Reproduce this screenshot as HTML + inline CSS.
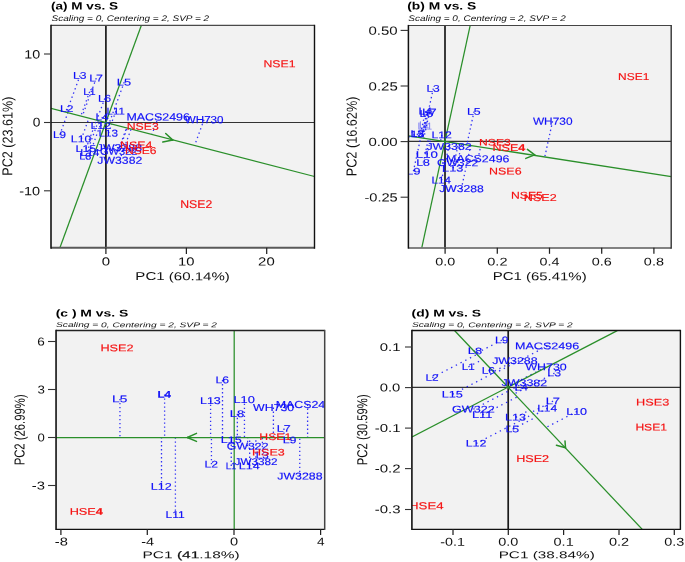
<!DOCTYPE html>
<html><head><meta charset="utf-8"><title>GGE biplots</title>
<style>
html,body{margin:0;padding:0;background:#fff;}
body{width:685px;height:562px;overflow:hidden;}
svg{display:block;will-change:transform;text-rendering:geometricPrecision;font-family:"Liberation Sans", sans-serif;}
</style></head>
<body>
<svg width="685" height="562" viewBox="0 0 685 562">
<rect x="0" y="0" width="685" height="562" fill="#fff"/>
<clipPath id="ca"><rect x="51" y="25.3" width="263.5" height="222.39999999999998"/></clipPath>
<rect x="51" y="25.3" width="263.5" height="222.39999999999998" fill="#f2f2f2"/>
<g clip-path="url(#ca)">
<line x1="105.90" y1="25.30" x2="105.90" y2="247.70" stroke="#1a1a1a" stroke-width="1.7"/>
<line x1="51.00" y1="122.50" x2="314.50" y2="122.50" stroke="#333" stroke-width="1.1"/>
<line x1="80.05" y1="75.45" x2="66.54" y2="112.31" stroke="#1010f8" stroke-width="1.3" stroke-dasharray="1.4 3.10" stroke-linecap="butt" opacity="0.85"/>
<line x1="96.25" y1="78.15" x2="82.24" y2="116.37" stroke="#1010f8" stroke-width="1.3" stroke-dasharray="1.4 3.10" stroke-linecap="butt" opacity="0.85"/>
<line x1="89.65" y1="91.80" x2="80.78" y2="115.99" stroke="#1010f8" stroke-width="1.3" stroke-dasharray="1.4 3.10" stroke-linecap="butt" opacity="0.85"/>
<line x1="124.20" y1="82.20" x2="109.13" y2="123.34" stroke="#1010f8" stroke-width="1.3" stroke-dasharray="1.4 3.10" stroke-linecap="butt" opacity="0.85"/>
<line x1="104.75" y1="98.40" x2="96.78" y2="120.14" stroke="#1010f8" stroke-width="1.3" stroke-dasharray="1.4 3.10" stroke-linecap="butt" opacity="0.85"/>
<line x1="66.85" y1="108.85" x2="65.67" y2="112.08" stroke="#1010f8" stroke-width="1.3" stroke-dasharray="1.4 3.10" stroke-linecap="butt" opacity="0.85"/>
<line x1="115.85" y1="111.20" x2="111.21" y2="123.87" stroke="#1010f8" stroke-width="1.3" stroke-dasharray="1.4 3.10" stroke-linecap="butt" opacity="0.85"/>
<line x1="102.40" y1="117.05" x2="100.88" y2="121.20" stroke="#1010f8" stroke-width="1.3" stroke-dasharray="1.4 3.10" stroke-linecap="butt" opacity="0.85"/>
<line x1="158.40" y1="116.90" x2="151.97" y2="134.43" stroke="#1010f8" stroke-width="1.3" stroke-dasharray="1.4 3.10" stroke-linecap="butt" opacity="0.85"/>
<line x1="204.00" y1="119.80" x2="194.59" y2="145.47" stroke="#1010f8" stroke-width="1.3" stroke-dasharray="1.4 3.10" stroke-linecap="butt" opacity="0.85"/>
<line x1="100.85" y1="125.75" x2="102.38" y2="121.59" stroke="#1010f8" stroke-width="1.3" stroke-dasharray="1.4 3.10" stroke-linecap="butt" opacity="0.85"/>
<line x1="108.50" y1="133.10" x2="111.82" y2="124.03" stroke="#1010f8" stroke-width="1.3" stroke-dasharray="1.4 3.10" stroke-linecap="butt" opacity="0.85"/>
<line x1="59.80" y1="134.75" x2="67.90" y2="112.66" stroke="#1010f8" stroke-width="1.3" stroke-dasharray="1.4 3.10" stroke-linecap="butt" opacity="0.85"/>
<line x1="81.35" y1="138.95" x2="88.98" y2="118.12" stroke="#1010f8" stroke-width="1.3" stroke-dasharray="1.4 3.10" stroke-linecap="butt" opacity="0.85"/>
<line x1="86.05" y1="148.60" x2="96.51" y2="120.07" stroke="#1010f8" stroke-width="1.3" stroke-dasharray="1.4 3.10" stroke-linecap="butt" opacity="0.85"/>
<line x1="90.15" y1="152.75" x2="101.64" y2="121.40" stroke="#1010f8" stroke-width="1.3" stroke-dasharray="1.4 3.10" stroke-linecap="butt" opacity="0.85"/>
<line x1="85.45" y1="156.30" x2="98.54" y2="120.59" stroke="#1010f8" stroke-width="1.3" stroke-dasharray="1.4 3.10" stroke-linecap="butt" opacity="0.85"/>
<line x1="119.25" y1="147.80" x2="126.56" y2="127.85" stroke="#1010f8" stroke-width="1.3" stroke-dasharray="1.4 3.10" stroke-linecap="butt" opacity="0.85"/>
<line x1="118.70" y1="151.40" x2="127.26" y2="128.03" stroke="#1010f8" stroke-width="1.3" stroke-dasharray="1.4 3.10" stroke-linecap="butt" opacity="0.85"/>
<line x1="119.60" y1="160.30" x2="131.06" y2="129.02" stroke="#1010f8" stroke-width="1.3" stroke-dasharray="1.4 3.10" stroke-linecap="butt" opacity="0.85"/>
<line x1="51.00" y1="108.30" x2="314.50" y2="176.50" stroke="#2a8f2a" stroke-width="1.25"/>
<line x1="141.40" y1="25.30" x2="59.90" y2="247.70" stroke="#2a8f2a" stroke-width="1.25"/>
<line x1="165.70" y1="133.50" x2="172.80" y2="140.10" stroke="#2a8f2a" stroke-width="1.5" stroke-linecap="round"/>
<line x1="162.80" y1="142.10" x2="172.80" y2="140.10" stroke="#2a8f2a" stroke-width="1.5" stroke-linecap="round"/>
<text transform="translate(73.08 78.70) skewY(0.05)" font-size="9.71" textLength="13.48" lengthAdjust="spacingAndGlyphs" fill="#1010f8" stroke="#1010f8" stroke-width="0.15">L3</text>
<text transform="translate(89.15 81.40) skewY(0.05)" font-size="9.71" textLength="13.85" lengthAdjust="spacingAndGlyphs" fill="#1010f8" stroke="#1010f8" stroke-width="0.15">L7</text>
<text transform="translate(83.37 95.10) skewY(0.05)" font-size="9.86" textLength="12.20" lengthAdjust="spacingAndGlyphs" fill="#1010f8" stroke="#1010f8" stroke-width="0.15">L1</text>
<text transform="translate(116.82 85.50) skewY(0.05)" font-size="9.86" textLength="14.27" lengthAdjust="spacingAndGlyphs" fill="#1010f8" stroke="#1010f8" stroke-width="0.15">L5</text>
<text transform="translate(97.90 101.70) skewY(0.05)" font-size="9.86" textLength="13.26" lengthAdjust="spacingAndGlyphs" fill="#1010f8" stroke="#1010f8" stroke-width="0.15">L6</text>
<text transform="translate(59.99 112.10) skewY(0.05)" font-size="9.71" textLength="13.39" lengthAdjust="spacingAndGlyphs" fill="#1010f8" stroke="#1010f8" stroke-width="0.15">L2</text>
<text transform="translate(106.54 114.50) skewY(0.05)" font-size="9.86" textLength="18.22" lengthAdjust="spacingAndGlyphs" fill="#1010f8" stroke="#1010f8" stroke-width="0.15">L11</text>
<text transform="translate(95.50 120.30) skewY(0.05)" font-size="9.71" textLength="13.24" lengthAdjust="spacingAndGlyphs" fill="#1010f8" stroke="#1010f8" stroke-width="0.15">L4</text>
<text transform="translate(126.46 120.40) skewY(0.05)" font-size="10.43" textLength="63.37" lengthAdjust="spacingAndGlyphs" fill="#1010f8" stroke="#1010f8" stroke-width="0.15">MACS2496</text>
<text transform="translate(184.79 123.30) skewY(0.05)" font-size="10.43" textLength="38.76" lengthAdjust="spacingAndGlyphs" fill="#1010f8" stroke="#1010f8" stroke-width="0.15">WH730</text>
<text transform="translate(90.47 129.00) skewY(0.05)" font-size="9.71" textLength="20.44" lengthAdjust="spacingAndGlyphs" fill="#1010f8" stroke="#1010f8" stroke-width="0.15">L12</text>
<text transform="translate(98.51 136.40) skewY(0.05)" font-size="9.86" textLength="19.55" lengthAdjust="spacingAndGlyphs" fill="#1010f8" stroke="#1010f8" stroke-width="0.15">L13</text>
<text transform="translate(53.12 138.00) skewY(0.05)" font-size="9.71" textLength="12.99" lengthAdjust="spacingAndGlyphs" fill="#1010f8" stroke="#1010f8" stroke-width="0.15">L9</text>
<text transform="translate(70.87 142.20) skewY(0.05)" font-size="9.71" textLength="20.45" lengthAdjust="spacingAndGlyphs" fill="#1010f8" stroke="#1010f8" stroke-width="0.15">L10</text>
<text transform="translate(75.57 151.90) skewY(0.05)" font-size="9.86" textLength="20.52" lengthAdjust="spacingAndGlyphs" fill="#1010f8" stroke="#1010f8" stroke-width="0.15">L15</text>
<text transform="translate(80.33 156.00) skewY(0.05)" font-size="9.71" textLength="19.10" lengthAdjust="spacingAndGlyphs" fill="#1010f8" stroke="#1010f8" stroke-width="0.15">L14</text>
<text transform="translate(79.18 159.50) skewY(0.05)" font-size="9.57" textLength="12.13" lengthAdjust="spacingAndGlyphs" fill="#1010f8" stroke="#1010f8" stroke-width="0.15">L8</text>
<text transform="translate(96.76 151.10) skewY(0.05)" font-size="9.86" textLength="45.32" lengthAdjust="spacingAndGlyphs" fill="#1010f8" stroke="#1010f8" stroke-width="0.15">JW3288</text>
<text transform="translate(99.90 154.70) skewY(0.05)" font-size="9.86" textLength="37.61" lengthAdjust="spacingAndGlyphs" fill="#1010f8" stroke="#1010f8" stroke-width="0.15">GW322</text>
<text transform="translate(97.37 163.70) skewY(0.05)" font-size="10.14" textLength="44.94" lengthAdjust="spacingAndGlyphs" fill="#1010f8" stroke="#1010f8" stroke-width="0.15">JW3382</text>
<text transform="translate(263.47 67.30) skewY(0.05)" font-size="10.14" textLength="32.06" lengthAdjust="spacingAndGlyphs" fill="#f51212" stroke="#f51212" stroke-width="0.15">NSE1</text>
<text transform="translate(180.27 208.00) skewY(0.05)" font-size="11.29" textLength="32.02" lengthAdjust="spacingAndGlyphs" fill="#f51212" stroke="#f51212" stroke-width="0.15">NSE2</text>
<text transform="translate(126.77 129.70) skewY(0.05)" font-size="9.86" textLength="32.00" lengthAdjust="spacingAndGlyphs" fill="#f51212" stroke="#f51212" stroke-width="0.15">NSE3</text>
<text transform="translate(120.06 148.20) skewY(0.05)" font-size="9.71" textLength="32.29" lengthAdjust="spacingAndGlyphs" fill="#f51212" stroke="#f51212" stroke-width="0.15">NSE4</text>
<text transform="translate(124.98 154.10) skewY(0.05)" font-size="10.00" textLength="31.58" lengthAdjust="spacingAndGlyphs" fill="#f51212" stroke="#f51212" stroke-width="0.15">NSE6</text>
</g>
<line x1="51.00" y1="25.40" x2="314.50" y2="25.40" stroke="#4a4a4a" stroke-width="1.2"/>
<line x1="51.00" y1="247.80" x2="314.50" y2="247.80" stroke="#5a5a5a" stroke-width="1.9"/>
<line x1="51.00" y1="24.80" x2="51.00" y2="248.75" stroke="#111" stroke-width="1.6"/>
<line x1="314.50" y1="24.80" x2="314.50" y2="248.75" stroke="#111" stroke-width="1.4"/>
<line x1="44.00" y1="54.00" x2="51.00" y2="54.00" stroke="#333" stroke-width="1.1"/>
<text transform="translate(24.28 58.50) skewY(0.05)" font-size="12.14" textLength="15.91" lengthAdjust="spacingAndGlyphs" fill="#111">10</text>
<line x1="44.00" y1="122.50" x2="51.00" y2="122.50" stroke="#333" stroke-width="1.1"/>
<text transform="translate(32.70 126.40) skewY(0.05)" font-size="12.71" textLength="7.65" lengthAdjust="spacingAndGlyphs" fill="#111">0</text>
<line x1="44.00" y1="190.80" x2="51.00" y2="190.80" stroke="#333" stroke-width="1.1"/>
<text transform="translate(19.20 195.30) skewY(0.05)" font-size="12.14" textLength="20.97" lengthAdjust="spacingAndGlyphs" fill="#111">-10</text>
<line x1="105.90" y1="247.70" x2="105.90" y2="254.00" stroke="#222" stroke-width="1.25"/>
<text transform="translate(101.65 265.60) skewY(0.05)" font-size="11.71" textLength="8.34" lengthAdjust="spacingAndGlyphs" fill="#111">0</text>
<line x1="186.40" y1="247.70" x2="186.40" y2="254.00" stroke="#222" stroke-width="1.25"/>
<text transform="translate(178.04 265.60) skewY(0.05)" font-size="11.71" textLength="16.46" lengthAdjust="spacingAndGlyphs" fill="#111">10</text>
<line x1="266.70" y1="247.70" x2="266.70" y2="254.00" stroke="#222" stroke-width="1.25"/>
<text transform="translate(258.10 265.60) skewY(0.05)" font-size="11.71" textLength="16.60" lengthAdjust="spacingAndGlyphs" fill="#111">20</text>
<text transform="translate(50.97 9.40) skewY(0.05)" font-size="10.64" textLength="67.07" lengthAdjust="spacingAndGlyphs" fill="#000" font-weight="bold">(a) M vs. S</text>
<text transform="translate(51.55 20.90) skewY(0.05)" font-size="8.14" textLength="157.49" lengthAdjust="spacingAndGlyphs" fill="#111" font-style="italic">Scaling = 0, Centering = 2, SVP = 2</text>
<text transform="translate(135.35 280.10) skewY(0.05)" font-size="11.43" textLength="94.42" lengthAdjust="spacingAndGlyphs" fill="#111">PC1 (60.14%)</text>
<text transform="translate(12.35,175.66) scale(1.135,1) rotate(-90) skewY(0.05)" x="0" y="0" font-size="12.59" textLength="79.07" lengthAdjust="spacingAndGlyphs" fill="#111">PC2 (23.61%)</text>
<clipPath id="cb"><rect x="408.5" y="25.3" width="262.79999999999995" height="222.39999999999998"/></clipPath>
<rect x="408.5" y="25.3" width="262.79999999999995" height="222.39999999999998" fill="#f2f2f2"/>
<g clip-path="url(#cb)">
<line x1="445.00" y1="25.30" x2="445.00" y2="247.70" stroke="#1a1a1a" stroke-width="1.7"/>
<line x1="408.50" y1="141.40" x2="671.30" y2="141.40" stroke="#333" stroke-width="1.1"/>
<line x1="433.30" y1="88.55" x2="422.56" y2="137.91" stroke="#1010f8" stroke-width="1.3" stroke-dasharray="1.4 2.90" stroke-linecap="butt" opacity="0.85"/>
<line x1="474.05" y1="111.55" x2="466.82" y2="144.79" stroke="#1010f8" stroke-width="1.3" stroke-dasharray="1.4 2.90" stroke-linecap="butt" opacity="0.85"/>
<line x1="425.50" y1="111.15" x2="419.77" y2="137.48" stroke="#1010f8" stroke-width="1.3" stroke-dasharray="1.4 2.90" stroke-linecap="butt" opacity="0.85"/>
<line x1="429.45" y1="112.25" x2="423.82" y2="138.11" stroke="#1010f8" stroke-width="1.3" stroke-dasharray="1.4 2.90" stroke-linecap="butt" opacity="0.85"/>
<line x1="426.50" y1="113.75" x2="421.28" y2="137.72" stroke="#1010f8" stroke-width="1.3" stroke-dasharray="1.4 2.90" stroke-linecap="butt" opacity="0.85"/>
<line x1="424.35" y1="125.05" x2="421.58" y2="137.76" stroke="#1010f8" stroke-width="1.3" stroke-dasharray="1.4 2.90" stroke-linecap="butt" opacity="0.85"/>
<line x1="425.00" y1="126.25" x2="422.46" y2="137.90" stroke="#1010f8" stroke-width="1.3" stroke-dasharray="1.4 2.90" stroke-linecap="butt" opacity="0.85"/>
<line x1="417.50" y1="133.65" x2="416.77" y2="137.02" stroke="#1010f8" stroke-width="1.3" stroke-dasharray="1.4 2.90" stroke-linecap="butt" opacity="0.85"/>
<line x1="414.15" y1="134.15" x2="413.63" y2="136.53" stroke="#1010f8" stroke-width="1.3" stroke-dasharray="1.4 2.90" stroke-linecap="butt" opacity="0.85"/>
<line x1="441.85" y1="135.00" x2="440.61" y2="140.72" stroke="#1010f8" stroke-width="1.3" stroke-dasharray="1.4 2.90" stroke-linecap="butt" opacity="0.85"/>
<line x1="448.80" y1="146.50" x2="449.75" y2="142.14" stroke="#1010f8" stroke-width="1.3" stroke-dasharray="1.4 2.90" stroke-linecap="butt" opacity="0.85"/>
<line x1="427.10" y1="154.60" x2="430.46" y2="139.14" stroke="#1010f8" stroke-width="1.3" stroke-dasharray="1.4 2.90" stroke-linecap="butt" opacity="0.85"/>
<line x1="478.00" y1="158.75" x2="480.57" y2="146.92" stroke="#1010f8" stroke-width="1.3" stroke-dasharray="1.4 2.90" stroke-linecap="butt" opacity="0.85"/>
<line x1="423.25" y1="162.65" x2="428.43" y2="138.83" stroke="#1010f8" stroke-width="1.3" stroke-dasharray="1.4 2.90" stroke-linecap="butt" opacity="0.85"/>
<line x1="457.55" y1="162.80" x2="461.64" y2="143.98" stroke="#1010f8" stroke-width="1.3" stroke-dasharray="1.4 2.90" stroke-linecap="butt" opacity="0.85"/>
<line x1="453.05" y1="168.25" x2="458.44" y2="143.49" stroke="#1010f8" stroke-width="1.3" stroke-dasharray="1.4 2.90" stroke-linecap="butt" opacity="0.85"/>
<line x1="413.40" y1="171.25" x2="420.72" y2="137.63" stroke="#1010f8" stroke-width="1.3" stroke-dasharray="1.4 2.90" stroke-linecap="butt" opacity="0.85"/>
<line x1="441.50" y1="180.25" x2="449.79" y2="142.14" stroke="#1010f8" stroke-width="1.3" stroke-dasharray="1.4 2.90" stroke-linecap="butt" opacity="0.85"/>
<line x1="461.35" y1="188.75" x2="470.78" y2="145.40" stroke="#1010f8" stroke-width="1.3" stroke-dasharray="1.4 2.90" stroke-linecap="butt" opacity="0.85"/>
<line x1="552.55" y1="121.25" x2="544.79" y2="156.90" stroke="#1010f8" stroke-width="1.3" stroke-dasharray="1.4 2.90" stroke-linecap="butt" opacity="0.85"/>
<line x1="408.50" y1="135.80" x2="671.30" y2="176.60" stroke="#2a8f2a" stroke-width="1.25"/>
<line x1="470.20" y1="25.30" x2="421.80" y2="247.70" stroke="#2a8f2a" stroke-width="1.25"/>
<line x1="527.40" y1="149.40" x2="534.70" y2="154.90" stroke="#2a8f2a" stroke-width="1.5" stroke-linecap="round"/>
<line x1="525.80" y1="158.40" x2="534.70" y2="154.90" stroke="#2a8f2a" stroke-width="1.5" stroke-linecap="round"/>
<text transform="translate(426.39 91.80) skewY(0.05)" font-size="9.71" textLength="13.37" lengthAdjust="spacingAndGlyphs" fill="#1010f8" stroke="#1010f8" stroke-width="0.15">L3</text>
<text transform="translate(466.96 114.80) skewY(0.05)" font-size="9.71" textLength="13.71" lengthAdjust="spacingAndGlyphs" fill="#1010f8" stroke="#1010f8" stroke-width="0.15">L5</text>
<text transform="translate(418.48 114.50) skewY(0.05)" font-size="10.00" textLength="13.46" lengthAdjust="spacingAndGlyphs" fill="#1010f8" stroke="#1010f8" stroke-width="0.15">L4</text>
<text transform="translate(421.89 115.50) skewY(0.05)" font-size="9.71" textLength="14.76" lengthAdjust="spacingAndGlyphs" fill="#1010f8" stroke="#1010f8" stroke-width="0.15">L7</text>
<text transform="translate(419.47 117.00) skewY(0.05)" font-size="9.71" textLength="13.60" lengthAdjust="spacingAndGlyphs" fill="#1010f8" stroke="#1010f8" stroke-width="0.15">L6</text>
<text opacity="0.55" transform="translate(419.35 128.30) skewY(0.05)" font-size="9.71" textLength="9.71" lengthAdjust="spacingAndGlyphs" fill="#1010f8" stroke="#1010f8" stroke-width="0.15">L1</text>
<text opacity="0.55" transform="translate(417.74 129.50) skewY(0.05)" font-size="9.71" textLength="14.21" lengthAdjust="spacingAndGlyphs" fill="#1010f8" stroke="#1010f8" stroke-width="0.15">L11</text>
<text transform="translate(410.46 136.80) skewY(0.05)" font-size="9.43" textLength="13.73" lengthAdjust="spacingAndGlyphs" fill="#1010f8" stroke="#1010f8" stroke-width="0.15">L2</text>
<text transform="translate(403.45 137.30) skewY(0.05)" font-size="9.43" textLength="20.95" lengthAdjust="spacingAndGlyphs" fill="#1010f8" stroke="#1010f8" stroke-width="0.15">L15</text>
<text transform="translate(431.47 138.30) skewY(0.05)" font-size="9.86" textLength="20.44" lengthAdjust="spacingAndGlyphs" fill="#1010f8" stroke="#1010f8" stroke-width="0.15">L12</text>
<text transform="translate(426.47 149.70) skewY(0.05)" font-size="9.57" textLength="45.14" lengthAdjust="spacingAndGlyphs" fill="#1010f8" stroke="#1010f8" stroke-width="0.15">JW3382</text>
<text transform="translate(415.79 157.70) skewY(0.05)" font-size="9.29" textLength="22.07" lengthAdjust="spacingAndGlyphs" fill="#1010f8" stroke="#1010f8" stroke-width="0.15">L10</text>
<text transform="translate(446.06 162.10) skewY(0.05)" font-size="10.00" textLength="63.37" lengthAdjust="spacingAndGlyphs" fill="#1010f8" stroke="#1010f8" stroke-width="0.15">MACS2496</text>
<text transform="translate(416.16 165.80) skewY(0.05)" font-size="9.43" textLength="13.71" lengthAdjust="spacingAndGlyphs" fill="#1010f8" stroke="#1010f8" stroke-width="0.15">L8</text>
<text transform="translate(436.94 166.10) skewY(0.05)" font-size="9.86" textLength="41.22" lengthAdjust="spacingAndGlyphs" fill="#1010f8" stroke="#1010f8" stroke-width="0.15">GW322</text>
<text transform="translate(442.12 171.40) skewY(0.05)" font-size="9.43" textLength="21.38" lengthAdjust="spacingAndGlyphs" fill="#1010f8" stroke="#1010f8" stroke-width="0.15">L13</text>
<text transform="translate(405.90 174.40) skewY(0.05)" font-size="9.43" textLength="14.57" lengthAdjust="spacingAndGlyphs" fill="#1010f8" stroke="#1010f8" stroke-width="0.15">L9</text>
<text transform="translate(431.52 183.50) skewY(0.05)" font-size="9.71" textLength="19.42" lengthAdjust="spacingAndGlyphs" fill="#1010f8" stroke="#1010f8" stroke-width="0.15">L14</text>
<text transform="translate(439.17 192.10) skewY(0.05)" font-size="10.00" textLength="44.71" lengthAdjust="spacingAndGlyphs" fill="#1010f8" stroke="#1010f8" stroke-width="0.15">JW3288</text>
<text transform="translate(532.89 124.70) skewY(0.05)" font-size="10.29" textLength="39.67" lengthAdjust="spacingAndGlyphs" fill="#1010f8" stroke="#1010f8" stroke-width="0.15">WH730</text>
<text transform="translate(618.09 80.00) skewY(0.05)" font-size="10.00" textLength="31.22" lengthAdjust="spacingAndGlyphs" fill="#f51212" stroke="#f51212" stroke-width="0.15">NSE1</text>
<text transform="translate(478.98 145.40) skewY(0.05)" font-size="9.43" textLength="31.79" lengthAdjust="spacingAndGlyphs" fill="#f51212" stroke="#f51212" stroke-width="0.15">NSE3</text>
<text transform="translate(492.55 151.00) skewY(0.05)" font-size="9.71" textLength="32.71" lengthAdjust="spacingAndGlyphs" fill="#f51212" stroke="#f51212" stroke-width="0.15">NSE<tspan font-weight="bold">4</tspan></text>
<text transform="translate(489.05 174.40) skewY(0.05)" font-size="9.86" textLength="32.52" lengthAdjust="spacingAndGlyphs" fill="#f51212" stroke="#f51212" stroke-width="0.15">NSE6</text>
<text transform="translate(510.97 198.70) skewY(0.05)" font-size="10.00" textLength="31.89" lengthAdjust="spacingAndGlyphs" fill="#f51212" stroke="#f51212" stroke-width="0.15">NSE5</text>
<text transform="translate(523.84 201.10) skewY(0.05)" font-size="10.00" textLength="32.87" lengthAdjust="spacingAndGlyphs" fill="#f51212" stroke="#f51212" stroke-width="0.15">NSE2</text>
</g>
<line x1="408.40" y1="25.50" x2="671.20" y2="25.50" stroke="#444" stroke-width="1.2"/>
<line x1="408.40" y1="247.90" x2="671.20" y2="247.90" stroke="#5a5a5a" stroke-width="1.5"/>
<line x1="408.40" y1="24.90" x2="408.40" y2="248.65" stroke="#111" stroke-width="1.5"/>
<line x1="671.20" y1="24.90" x2="671.20" y2="248.65" stroke="#333" stroke-width="1.4"/>
<line x1="400.60" y1="30.40" x2="408.50" y2="30.40" stroke="#333" stroke-width="1.1"/>
<text transform="translate(368.55 34.80) skewY(0.05)" font-size="11.86" textLength="29.14" lengthAdjust="spacingAndGlyphs" fill="#111">0.50</text>
<line x1="400.60" y1="86.00" x2="408.50" y2="86.00" stroke="#333" stroke-width="1.1"/>
<text transform="translate(368.55 90.40) skewY(0.05)" font-size="11.86" textLength="29.22" lengthAdjust="spacingAndGlyphs" fill="#111">0.25</text>
<line x1="400.60" y1="141.60" x2="408.50" y2="141.60" stroke="#333" stroke-width="1.1"/>
<text transform="translate(368.55 146.00) skewY(0.05)" font-size="11.86" textLength="29.14" lengthAdjust="spacingAndGlyphs" fill="#111">0.00</text>
<line x1="400.60" y1="197.20" x2="408.50" y2="197.20" stroke="#333" stroke-width="1.1"/>
<text transform="translate(364.39 201.60) skewY(0.05)" font-size="11.86" textLength="33.33" lengthAdjust="spacingAndGlyphs" fill="#111">-0.25</text>
<line x1="445.10" y1="247.70" x2="445.10" y2="253.80" stroke="#222" stroke-width="1.25"/>
<text transform="translate(435.18 265.40) skewY(0.05)" font-size="11.29" textLength="19.98" lengthAdjust="spacingAndGlyphs" fill="#111">0.0</text>
<line x1="497.30" y1="247.70" x2="497.30" y2="253.80" stroke="#222" stroke-width="1.25"/>
<text transform="translate(487.27 265.40) skewY(0.05)" font-size="11.29" textLength="20.21" lengthAdjust="spacingAndGlyphs" fill="#111">0.2</text>
<line x1="549.50" y1="247.70" x2="549.50" y2="253.80" stroke="#222" stroke-width="1.25"/>
<text transform="translate(539.48 265.40) skewY(0.05)" font-size="11.29" textLength="19.90" lengthAdjust="spacingAndGlyphs" fill="#111">0.4</text>
<line x1="601.70" y1="247.70" x2="601.70" y2="253.80" stroke="#222" stroke-width="1.25"/>
<text transform="translate(591.67 265.40) skewY(0.05)" font-size="11.29" textLength="20.06" lengthAdjust="spacingAndGlyphs" fill="#111">0.6</text>
<line x1="653.90" y1="247.70" x2="653.90" y2="253.80" stroke="#222" stroke-width="1.25"/>
<text transform="translate(643.87 265.40) skewY(0.05)" font-size="11.29" textLength="20.06" lengthAdjust="spacingAndGlyphs" fill="#111">0.8</text>
<text transform="translate(407.16 9.40) skewY(0.05)" font-size="10.64" textLength="69.08" lengthAdjust="spacingAndGlyphs" fill="#000" font-weight="bold">(b) M vs. S</text>
<text transform="translate(408.25 20.90) skewY(0.05)" font-size="8.14" textLength="157.49" lengthAdjust="spacingAndGlyphs" fill="#111" font-style="italic">Scaling = 0, Centering = 2, SVP = 2</text>
<text transform="translate(492.65 280.10) skewY(0.05)" font-size="11.43" textLength="94.01" lengthAdjust="spacingAndGlyphs" fill="#111">PC1 (65.41%)</text>
<text transform="translate(356.60,176.26) scale(1.143,1) rotate(-90) skewY(0.05)" x="0" y="0" font-size="12.69" textLength="79.69" lengthAdjust="spacingAndGlyphs" fill="#111">PC2 (16.62%)</text>
<clipPath id="cc"><rect x="56.0" y="330.8" width="268.5" height="198.2"/></clipPath>
<rect x="56.0" y="330.8" width="268.5" height="198.2" fill="#f2f2f2"/>
<g clip-path="url(#cc)">
<line x1="119.95" y1="398.95" x2="119.95" y2="437.50" stroke="#1010f8" stroke-width="1.3" stroke-dasharray="1.4 2.60" stroke-linecap="butt" opacity="0.85"/>
<line x1="164.60" y1="394.40" x2="164.60" y2="437.50" stroke="#1010f8" stroke-width="1.3" stroke-dasharray="1.4 2.60" stroke-linecap="butt" opacity="0.85"/>
<line x1="222.50" y1="380.00" x2="222.50" y2="437.50" stroke="#1010f8" stroke-width="1.3" stroke-dasharray="1.4 2.60" stroke-linecap="butt" opacity="0.85"/>
<line x1="210.60" y1="400.70" x2="210.60" y2="437.50" stroke="#1010f8" stroke-width="1.3" stroke-dasharray="1.4 2.60" stroke-linecap="butt" opacity="0.85"/>
<line x1="244.45" y1="399.65" x2="244.45" y2="437.50" stroke="#1010f8" stroke-width="1.3" stroke-dasharray="1.4 2.60" stroke-linecap="butt" opacity="0.85"/>
<line x1="237.35" y1="413.75" x2="237.35" y2="437.50" stroke="#1010f8" stroke-width="1.3" stroke-dasharray="1.4 2.60" stroke-linecap="butt" opacity="0.85"/>
<line x1="273.40" y1="407.50" x2="273.40" y2="437.50" stroke="#1010f8" stroke-width="1.3" stroke-dasharray="1.4 2.60" stroke-linecap="butt" opacity="0.85"/>
<line x1="307.60" y1="404.50" x2="307.60" y2="437.50" stroke="#1010f8" stroke-width="1.3" stroke-dasharray="1.4 2.60" stroke-linecap="butt" opacity="0.85"/>
<line x1="283.95" y1="428.50" x2="283.95" y2="437.50" stroke="#1010f8" stroke-width="1.3" stroke-dasharray="1.4 2.60" stroke-linecap="butt" opacity="0.85"/>
<line x1="289.80" y1="440.15" x2="289.80" y2="437.50" stroke="#1010f8" stroke-width="1.3" stroke-dasharray="1.4 2.60" stroke-linecap="butt" opacity="0.85"/>
<line x1="231.40" y1="439.95" x2="231.40" y2="437.50" stroke="#1010f8" stroke-width="1.3" stroke-dasharray="1.4 2.60" stroke-linecap="butt" opacity="0.85"/>
<line x1="247.65" y1="446.25" x2="247.65" y2="437.50" stroke="#1010f8" stroke-width="1.3" stroke-dasharray="1.4 2.60" stroke-linecap="butt" opacity="0.85"/>
<line x1="262.40" y1="455.25" x2="262.40" y2="437.50" stroke="#1010f8" stroke-width="1.3" stroke-dasharray="1.4 2.60" stroke-linecap="butt" opacity="0.85"/>
<line x1="255.85" y1="461.65" x2="255.85" y2="437.50" stroke="#1010f8" stroke-width="1.3" stroke-dasharray="1.4 2.60" stroke-linecap="butt" opacity="0.85"/>
<line x1="211.45" y1="464.30" x2="211.45" y2="437.50" stroke="#1010f8" stroke-width="1.3" stroke-dasharray="1.4 2.60" stroke-linecap="butt" opacity="0.85"/>
<line x1="231.25" y1="466.00" x2="231.25" y2="437.50" stroke="#1010f8" stroke-width="1.3" stroke-dasharray="1.4 2.60" stroke-linecap="butt" opacity="0.85"/>
<line x1="249.65" y1="466.00" x2="249.65" y2="437.50" stroke="#1010f8" stroke-width="1.3" stroke-dasharray="1.4 2.60" stroke-linecap="butt" opacity="0.85"/>
<line x1="299.75" y1="476.10" x2="299.75" y2="437.50" stroke="#1010f8" stroke-width="1.3" stroke-dasharray="1.4 2.60" stroke-linecap="butt" opacity="0.85"/>
<line x1="161.50" y1="486.45" x2="161.50" y2="437.50" stroke="#1010f8" stroke-width="1.3" stroke-dasharray="1.4 2.60" stroke-linecap="butt" opacity="0.85"/>
<line x1="175.40" y1="514.85" x2="175.40" y2="437.50" stroke="#1010f8" stroke-width="1.3" stroke-dasharray="1.4 2.60" stroke-linecap="butt" opacity="0.85"/>
<line x1="56.00" y1="437.50" x2="324.50" y2="437.50" stroke="#2a8f2a" stroke-width="1.25"/>
<line x1="234.20" y1="330.80" x2="234.20" y2="529.00" stroke="#2a8f2a" stroke-width="1.25"/>
<line x1="196.50" y1="433.40" x2="187.30" y2="437.50" stroke="#2a8f2a" stroke-width="1.5" stroke-linecap="round"/>
<line x1="196.50" y1="441.40" x2="187.30" y2="437.50" stroke="#2a8f2a" stroke-width="1.5" stroke-linecap="round"/>
<text transform="translate(112.05 402.20) skewY(0.05)" font-size="9.71" textLength="15.28" lengthAdjust="spacingAndGlyphs" fill="#1010f8" stroke="#1010f8" stroke-width="0.15">L5</text>
<text transform="translate(157.50 397.70) skewY(0.05)" font-size="9.86" textLength="13.54" lengthAdjust="spacingAndGlyphs" fill="#1010f8" font-weight="bold" stroke="#1010f8" stroke-width="0.15">L4</text>
<text transform="translate(215.47 383.30) skewY(0.05)" font-size="9.86" textLength="13.60" lengthAdjust="spacingAndGlyphs" fill="#1010f8" stroke="#1010f8" stroke-width="0.15">L6</text>
<text transform="translate(199.95 404.00) skewY(0.05)" font-size="9.86" textLength="20.84" lengthAdjust="spacingAndGlyphs" fill="#1010f8" stroke="#1010f8" stroke-width="0.15">L13</text>
<text transform="translate(233.42 403.00) skewY(0.05)" font-size="10.00" textLength="21.53" lengthAdjust="spacingAndGlyphs" fill="#1010f8" stroke="#1010f8" stroke-width="0.15">L10</text>
<text transform="translate(229.80 417.00) skewY(0.05)" font-size="9.71" textLength="14.61" lengthAdjust="spacingAndGlyphs" fill="#1010f8" stroke="#1010f8" stroke-width="0.15">L8</text>
<text transform="translate(252.99 410.90) skewY(0.05)" font-size="10.14" textLength="41.19" lengthAdjust="spacingAndGlyphs" fill="#1010f8" stroke="#1010f8" stroke-width="0.15">WH730</text>
<text transform="translate(275.66 407.90) skewY(0.05)" font-size="10.14" textLength="63.37" lengthAdjust="spacingAndGlyphs" fill="#1010f8" stroke="#1010f8" stroke-width="0.15">MACS2496</text>
<text transform="translate(276.85 431.70) skewY(0.05)" font-size="9.57" textLength="13.85" lengthAdjust="spacingAndGlyphs" fill="#1010f8" stroke="#1010f8" stroke-width="0.15">L7</text>
<text transform="translate(282.65 443.30) skewY(0.05)" font-size="9.43" textLength="13.89" lengthAdjust="spacingAndGlyphs" fill="#1010f8" stroke="#1010f8" stroke-width="0.15">L9</text>
<text transform="translate(220.64 443.10) skewY(0.05)" font-size="9.43" textLength="21.06" lengthAdjust="spacingAndGlyphs" fill="#1010f8" stroke="#1010f8" stroke-width="0.15">L15</text>
<text transform="translate(226.84 449.50) skewY(0.05)" font-size="9.71" textLength="41.63" lengthAdjust="spacingAndGlyphs" fill="#1010f8" stroke="#1010f8" stroke-width="0.15">GW322</text>
<text transform="translate(255.72 458.50) skewY(0.05)" font-size="9.71" textLength="12.92" lengthAdjust="spacingAndGlyphs" fill="#1010f8" stroke="#1010f8" stroke-width="0.15">L3</text>
<text transform="translate(234.57 464.90) skewY(0.05)" font-size="9.71" textLength="43.00" lengthAdjust="spacingAndGlyphs" fill="#1010f8" stroke="#1010f8" stroke-width="0.15">JW3382</text>
<text transform="translate(204.59 467.50) skewY(0.05)" font-size="9.57" textLength="13.39" lengthAdjust="spacingAndGlyphs" fill="#1010f8" stroke="#1010f8" stroke-width="0.15">L2</text>
<text transform="translate(225.67 469.20) skewY(0.05)" font-size="9.57" textLength="10.84" lengthAdjust="spacingAndGlyphs" fill="#1010f8" stroke="#1010f8" stroke-width="0.15">L1</text>
<text transform="translate(238.84 469.20) skewY(0.05)" font-size="9.57" textLength="21.03" lengthAdjust="spacingAndGlyphs" fill="#1010f8" stroke="#1010f8" stroke-width="0.15">L14</text>
<text transform="translate(277.26 479.40) skewY(0.05)" font-size="9.86" textLength="45.32" lengthAdjust="spacingAndGlyphs" fill="#1010f8" stroke="#1010f8" stroke-width="0.15">JW3288</text>
<text transform="translate(150.84 489.70) skewY(0.05)" font-size="9.71" textLength="20.98" lengthAdjust="spacingAndGlyphs" fill="#1010f8" stroke="#1010f8" stroke-width="0.15">L12</text>
<text transform="translate(165.59 518.10) skewY(0.05)" font-size="9.71" textLength="19.20" lengthAdjust="spacingAndGlyphs" fill="#1010f8" stroke="#1010f8" stroke-width="0.15">L11</text>
<text transform="translate(100.43 351.30) skewY(0.05)" font-size="9.71" textLength="33.18" lengthAdjust="spacingAndGlyphs" fill="#f51212" stroke="#f51212" stroke-width="0.15">HSE2</text>
<text transform="translate(259.37 440.10) skewY(0.05)" font-size="9.57" textLength="31.96" lengthAdjust="spacingAndGlyphs" fill="#f51212" stroke="#f51212" stroke-width="0.15">HSE1</text>
<text transform="translate(252.05 455.50) skewY(0.05)" font-size="9.43" textLength="32.73" lengthAdjust="spacingAndGlyphs" fill="#f51212" stroke="#f51212" stroke-width="0.15">HSE3</text>
<text transform="translate(69.63 514.80) skewY(0.05)" font-size="9.57" textLength="33.33" lengthAdjust="spacingAndGlyphs" fill="#f51212" stroke="#f51212" stroke-width="0.15">HSE<tspan font-weight="bold">4</tspan></text>
</g>
<line x1="56.05" y1="330.50" x2="324.70" y2="330.50" stroke="#222" stroke-width="1.3"/>
<line x1="56.05" y1="529.30" x2="324.70" y2="529.30" stroke="#111" stroke-width="1.2"/>
<line x1="56.05" y1="329.85" x2="56.05" y2="529.90" stroke="#111" stroke-width="1.6"/>
<line x1="324.70" y1="329.85" x2="324.70" y2="529.90" stroke="#444" stroke-width="1.5"/>
<line x1="48.00" y1="341.50" x2="56.00" y2="341.50" stroke="#333" stroke-width="1.1"/>
<text transform="translate(37.37 345.50) skewY(0.05)" font-size="11.43" textLength="7.54" lengthAdjust="spacingAndGlyphs" fill="#111">6</text>
<line x1="48.00" y1="389.50" x2="56.00" y2="389.50" stroke="#333" stroke-width="1.1"/>
<text transform="translate(37.52 393.50) skewY(0.05)" font-size="11.43" textLength="7.38" lengthAdjust="spacingAndGlyphs" fill="#111">3</text>
<line x1="48.00" y1="437.50" x2="56.00" y2="437.50" stroke="#333" stroke-width="1.1"/>
<text transform="translate(37.53 441.50) skewY(0.05)" font-size="11.43" textLength="7.30" lengthAdjust="spacingAndGlyphs" fill="#111">0</text>
<line x1="48.00" y1="485.50" x2="56.00" y2="485.50" stroke="#333" stroke-width="1.1"/>
<text transform="translate(31.78 489.50) skewY(0.05)" font-size="11.43" textLength="13.14" lengthAdjust="spacingAndGlyphs" fill="#111">-3</text>
<line x1="60.90" y1="529.00" x2="60.90" y2="535.00" stroke="#222" stroke-width="1.25"/>
<text transform="translate(54.79 545.60) skewY(0.05)" font-size="11.43" textLength="13.03" lengthAdjust="spacingAndGlyphs" fill="#111">-8</text>
<line x1="147.30" y1="529.00" x2="147.30" y2="535.00" stroke="#222" stroke-width="1.25"/>
<text transform="translate(141.20 545.60) skewY(0.05)" font-size="11.43" textLength="12.87" lengthAdjust="spacingAndGlyphs" fill="#111">-4</text>
<line x1="234.00" y1="529.00" x2="234.00" y2="535.00" stroke="#222" stroke-width="1.25"/>
<text transform="translate(230.07 545.60) skewY(0.05)" font-size="11.43" textLength="8.11" lengthAdjust="spacingAndGlyphs" fill="#111">0</text>
<line x1="320.60" y1="529.00" x2="320.60" y2="535.00" stroke="#222" stroke-width="1.25"/>
<text transform="translate(316.98 545.60) skewY(0.05)" font-size="11.43" textLength="7.60" lengthAdjust="spacingAndGlyphs" fill="#111">4</text>
<text transform="translate(55.65 316.40) skewY(0.05)" font-size="9.86" textLength="72.63" lengthAdjust="spacingAndGlyphs" fill="#000" font-weight="bold">(c ) M vs. S</text>
<text transform="translate(56.04 327.10) skewY(0.05)" font-size="7.00" textLength="160.80" lengthAdjust="spacingAndGlyphs" fill="#111" font-style="italic">Scaling = 0, Centering = 2, SVP = 2</text>
<text transform="translate(142.51 558.20) skewY(0.05)" font-size="10.00" textLength="97.28" lengthAdjust="spacingAndGlyphs" fill="#111">PC1 <tspan stroke="#111" stroke-width="0.22">(41</tspan>.18%)</text>
<text transform="translate(24.60,465.35) scale(1.283,1) rotate(-90) skewY(0.05)" x="0" y="0" font-size="11.30" textLength="70.99" lengthAdjust="spacingAndGlyphs" fill="#111">PC2 (26.99%)</text>
<clipPath id="cd"><rect x="412.0" y="330.5" width="268.6" height="198.60000000000002"/></clipPath>
<rect x="412.0" y="330.5" width="268.6" height="198.60000000000002" fill="#f2f2f2"/>
<g clip-path="url(#cd)">
<line x1="508.20" y1="330.50" x2="508.20" y2="529.10" stroke="#1a1a1a" stroke-width="1.7"/>
<line x1="412.00" y1="387.40" x2="680.60" y2="387.40" stroke="#333" stroke-width="1.1"/>
<line x1="501.85" y1="340.10" x2="476.12" y2="353.42" stroke="#1010f8" stroke-width="1.3" stroke-dasharray="1.4 3.90" stroke-linecap="butt" opacity="0.85"/>
<line x1="547.35" y1="346.05" x2="494.83" y2="373.24" stroke="#1010f8" stroke-width="1.3" stroke-dasharray="1.4 3.90" stroke-linecap="butt" opacity="0.85"/>
<line x1="475.25" y1="350.80" x2="474.17" y2="351.36" stroke="#1010f8" stroke-width="1.3" stroke-dasharray="1.4 3.90" stroke-linecap="butt" opacity="0.85"/>
<line x1="514.75" y1="360.70" x2="493.42" y2="371.74" stroke="#1010f8" stroke-width="1.3" stroke-dasharray="1.4 3.90" stroke-linecap="butt" opacity="0.85"/>
<line x1="545.85" y1="366.95" x2="507.59" y2="386.76" stroke="#1010f8" stroke-width="1.3" stroke-dasharray="1.4 3.90" stroke-linecap="butt" opacity="0.85"/>
<line x1="554.45" y1="373.10" x2="514.32" y2="393.88" stroke="#1010f8" stroke-width="1.3" stroke-dasharray="1.4 3.90" stroke-linecap="butt" opacity="0.85"/>
<line x1="468.40" y1="366.85" x2="482.10" y2="359.76" stroke="#1010f8" stroke-width="1.3" stroke-dasharray="1.4 3.90" stroke-linecap="butt" opacity="0.85"/>
<line x1="488.60" y1="370.50" x2="491.05" y2="369.23" stroke="#1010f8" stroke-width="1.3" stroke-dasharray="1.4 3.90" stroke-linecap="butt" opacity="0.85"/>
<line x1="432.25" y1="377.55" x2="477.02" y2="354.37" stroke="#1010f8" stroke-width="1.3" stroke-dasharray="1.4 3.90" stroke-linecap="butt" opacity="0.85"/>
<line x1="524.10" y1="382.85" x2="510.54" y2="389.87" stroke="#1010f8" stroke-width="1.3" stroke-dasharray="1.4 3.90" stroke-linecap="butt" opacity="0.85"/>
<line x1="521.65" y1="387.25" x2="512.52" y2="391.98" stroke="#1010f8" stroke-width="1.3" stroke-dasharray="1.4 3.90" stroke-linecap="butt" opacity="0.85"/>
<line x1="452.55" y1="394.25" x2="494.27" y2="372.65" stroke="#1010f8" stroke-width="1.3" stroke-dasharray="1.4 3.90" stroke-linecap="butt" opacity="0.85"/>
<line x1="473.35" y1="409.25" x2="510.61" y2="389.96" stroke="#1010f8" stroke-width="1.3" stroke-dasharray="1.4 3.90" stroke-linecap="butt" opacity="0.85"/>
<line x1="482.45" y1="414.90" x2="517.18" y2="396.92" stroke="#1010f8" stroke-width="1.3" stroke-dasharray="1.4 3.90" stroke-linecap="butt" opacity="0.85"/>
<line x1="515.80" y1="417.30" x2="529.66" y2="410.13" stroke="#1010f8" stroke-width="1.3" stroke-dasharray="1.4 3.90" stroke-linecap="butt" opacity="0.85"/>
<line x1="512.60" y1="429.20" x2="536.15" y2="417.01" stroke="#1010f8" stroke-width="1.3" stroke-dasharray="1.4 3.90" stroke-linecap="butt" opacity="0.85"/>
<line x1="476.20" y1="443.45" x2="533.24" y2="413.92" stroke="#1010f8" stroke-width="1.3" stroke-dasharray="1.4 3.90" stroke-linecap="butt" opacity="0.85"/>
<line x1="553.05" y1="401.10" x2="531.61" y2="412.20" stroke="#1010f8" stroke-width="1.3" stroke-dasharray="1.4 3.90" stroke-linecap="butt" opacity="0.85"/>
<line x1="547.50" y1="408.30" x2="534.36" y2="415.11" stroke="#1010f8" stroke-width="1.3" stroke-dasharray="1.4 3.90" stroke-linecap="butt" opacity="0.85"/>
<line x1="576.90" y1="411.50" x2="546.04" y2="427.48" stroke="#1010f8" stroke-width="1.3" stroke-dasharray="1.4 3.90" stroke-linecap="butt" opacity="0.85"/>
<line x1="412.00" y1="436.90" x2="617.30" y2="330.60" stroke="#2a8f2a" stroke-width="1.25"/>
<line x1="454.50" y1="330.50" x2="642.10" y2="529.20" stroke="#2a8f2a" stroke-width="1.25"/>
<line x1="556.40" y1="445.20" x2="565.50" y2="447.80" stroke="#2a8f2a" stroke-width="1.5" stroke-linecap="round"/>
<line x1="565.00" y1="440.90" x2="565.50" y2="447.80" stroke="#2a8f2a" stroke-width="1.5" stroke-linecap="round"/>
<text transform="translate(494.99 343.30) skewY(0.05)" font-size="9.57" textLength="13.33" lengthAdjust="spacingAndGlyphs" fill="#1010f8" stroke="#1010f8" stroke-width="0.15">L9</text>
<text transform="translate(515.05 349.30) skewY(0.05)" font-size="9.71" textLength="64.09" lengthAdjust="spacingAndGlyphs" fill="#1010f8" stroke="#1010f8" stroke-width="0.15">MACS2496</text>
<text transform="translate(467.82 353.90) skewY(0.05)" font-size="9.29" textLength="14.38" lengthAdjust="spacingAndGlyphs" fill="#1010f8" stroke="#1010f8" stroke-width="0.15">L8</text>
<text transform="translate(492.16 363.90) skewY(0.05)" font-size="9.57" textLength="45.53" lengthAdjust="spacingAndGlyphs" fill="#1010f8" stroke="#1010f8" stroke-width="0.15">JW3288</text>
<text transform="translate(525.39 370.20) skewY(0.05)" font-size="9.71" textLength="41.29" lengthAdjust="spacingAndGlyphs" fill="#1010f8" stroke="#1010f8" stroke-width="0.15">WH730</text>
<text transform="translate(547.36 376.30) skewY(0.05)" font-size="9.57" textLength="13.71" lengthAdjust="spacingAndGlyphs" fill="#1010f8" stroke="#1010f8" stroke-width="0.15">L3</text>
<text transform="translate(461.72 370.00) skewY(0.05)" font-size="9.43" textLength="12.99" lengthAdjust="spacingAndGlyphs" fill="#1010f8" stroke="#1010f8" stroke-width="0.15">L1</text>
<text transform="translate(481.69 373.70) skewY(0.05)" font-size="9.57" textLength="13.37" lengthAdjust="spacingAndGlyphs" fill="#1010f8" stroke="#1010f8" stroke-width="0.15">L6</text>
<text transform="translate(425.50 380.70) skewY(0.05)" font-size="9.43" textLength="13.17" lengthAdjust="spacingAndGlyphs" fill="#1010f8" stroke="#1010f8" stroke-width="0.15">L2</text>
<text transform="translate(501.46 386.10) skewY(0.05)" font-size="9.71" textLength="45.75" lengthAdjust="spacingAndGlyphs" fill="#1010f8" stroke="#1010f8" stroke-width="0.15">JW3382</text>
<text transform="translate(514.57 390.40) skewY(0.05)" font-size="9.43" textLength="13.57" lengthAdjust="spacingAndGlyphs" fill="#1010f8" stroke="#1010f8" stroke-width="0.15">L4</text>
<text transform="translate(441.74 397.40) skewY(0.05)" font-size="9.43" textLength="21.17" lengthAdjust="spacingAndGlyphs" fill="#1010f8" stroke="#1010f8" stroke-width="0.15">L15</text>
<text transform="translate(452.02 412.50) skewY(0.05)" font-size="9.71" textLength="42.66" lengthAdjust="spacingAndGlyphs" fill="#1010f8" stroke="#1010f8" stroke-width="0.15">GW322</text>
<text transform="translate(471.92 418.10) skewY(0.05)" font-size="9.57" textLength="20.61" lengthAdjust="spacingAndGlyphs" fill="#1010f8" stroke="#1010f8" stroke-width="0.15">L11</text>
<text transform="translate(505.04 420.50) skewY(0.05)" font-size="9.57" textLength="21.06" lengthAdjust="spacingAndGlyphs" fill="#1010f8" stroke="#1010f8" stroke-width="0.15">L13</text>
<text transform="translate(505.46 432.30) skewY(0.05)" font-size="9.29" textLength="13.82" lengthAdjust="spacingAndGlyphs" fill="#1010f8" stroke="#1010f8" stroke-width="0.15">L5</text>
<text transform="translate(465.65 446.60) skewY(0.05)" font-size="9.43" textLength="20.76" lengthAdjust="spacingAndGlyphs" fill="#1010f8" stroke="#1010f8" stroke-width="0.15">L12</text>
<text transform="translate(545.72 404.30) skewY(0.05)" font-size="9.57" textLength="14.30" lengthAdjust="spacingAndGlyphs" fill="#1010f8" stroke="#1010f8" stroke-width="0.15">L7</text>
<text transform="translate(537.19 411.50) skewY(0.05)" font-size="9.57" textLength="20.07" lengthAdjust="spacingAndGlyphs" fill="#1010f8" stroke="#1010f8" stroke-width="0.15">L14</text>
<text transform="translate(566.14 414.70) skewY(0.05)" font-size="9.57" textLength="20.99" lengthAdjust="spacingAndGlyphs" fill="#1010f8" stroke="#1010f8" stroke-width="0.15">L10</text>
<text transform="translate(636.03 405.50) skewY(0.05)" font-size="9.57" textLength="33.26" lengthAdjust="spacingAndGlyphs" fill="#f51212" stroke="#f51212" stroke-width="0.15">HSE3</text>
<text transform="translate(635.38 430.50) skewY(0.05)" font-size="9.71" textLength="31.64" lengthAdjust="spacingAndGlyphs" fill="#f51212" stroke="#f51212" stroke-width="0.15">HSE1</text>
<text transform="translate(516.14 462.10) skewY(0.05)" font-size="9.86" textLength="32.97" lengthAdjust="spacingAndGlyphs" fill="#f51212" stroke="#f51212" stroke-width="0.15">HSE2</text>
<text transform="translate(408.99 509.30) skewY(0.05)" font-size="10.14" textLength="34.69" lengthAdjust="spacingAndGlyphs" fill="#f51212" stroke="#f51212" stroke-width="0.15">HSE4</text>
</g>
<line x1="411.90" y1="330.50" x2="680.40" y2="330.50" stroke="#111" stroke-width="1.3"/>
<line x1="411.90" y1="529.30" x2="680.40" y2="529.30" stroke="#111" stroke-width="1.2"/>
<line x1="411.90" y1="329.85" x2="411.90" y2="529.90" stroke="#111" stroke-width="1.6"/>
<line x1="680.40" y1="329.85" x2="680.40" y2="529.90" stroke="#111" stroke-width="1.4"/>
<line x1="405.00" y1="347.00" x2="412.00" y2="347.00" stroke="#333" stroke-width="1.1"/>
<text transform="translate(379.75 351.10) skewY(0.05)" font-size="11.29" textLength="20.77" lengthAdjust="spacingAndGlyphs" fill="#111">0.1</text>
<line x1="405.00" y1="387.60" x2="412.00" y2="387.60" stroke="#333" stroke-width="1.1"/>
<text transform="translate(379.76 391.40) skewY(0.05)" font-size="11.43" textLength="20.61" lengthAdjust="spacingAndGlyphs" fill="#111">0.0</text>
<line x1="405.00" y1="428.10" x2="412.00" y2="428.10" stroke="#333" stroke-width="1.1"/>
<text transform="translate(374.78 431.90) skewY(0.05)" font-size="11.43" textLength="25.80" lengthAdjust="spacingAndGlyphs" fill="#111">-0.1</text>
<line x1="405.00" y1="468.60" x2="412.00" y2="468.60" stroke="#333" stroke-width="1.1"/>
<text transform="translate(374.77 472.40) skewY(0.05)" font-size="11.43" textLength="25.87" lengthAdjust="spacingAndGlyphs" fill="#111">-0.2</text>
<line x1="405.00" y1="509.50" x2="412.00" y2="509.50" stroke="#333" stroke-width="1.1"/>
<text transform="translate(374.78 513.30) skewY(0.05)" font-size="11.43" textLength="25.72" lengthAdjust="spacingAndGlyphs" fill="#111">-0.3</text>
<line x1="453.00" y1="529.10" x2="453.00" y2="535.00" stroke="#222" stroke-width="1.25"/>
<text transform="translate(440.21 545.80) skewY(0.05)" font-size="11.43" textLength="24.63" lengthAdjust="spacingAndGlyphs" fill="#111">-0.1</text>
<line x1="508.30" y1="529.10" x2="508.30" y2="535.00" stroke="#222" stroke-width="1.25"/>
<text transform="translate(498.17 545.80) skewY(0.05)" font-size="11.43" textLength="20.09" lengthAdjust="spacingAndGlyphs" fill="#111">0.0</text>
<line x1="563.60" y1="529.10" x2="563.60" y2="535.00" stroke="#222" stroke-width="1.25"/>
<text transform="translate(553.57 545.80) skewY(0.05)" font-size="11.43" textLength="20.13" lengthAdjust="spacingAndGlyphs" fill="#111">0.1</text>
<line x1="619.00" y1="529.10" x2="619.00" y2="535.00" stroke="#222" stroke-width="1.25"/>
<text transform="translate(608.97 545.80) skewY(0.05)" font-size="11.43" textLength="20.21" lengthAdjust="spacingAndGlyphs" fill="#111">0.2</text>
<line x1="674.30" y1="529.10" x2="674.30" y2="535.00" stroke="#222" stroke-width="1.25"/>
<text transform="translate(664.27 545.80) skewY(0.05)" font-size="11.43" textLength="20.06" lengthAdjust="spacingAndGlyphs" fill="#111">0.3</text>
<text transform="translate(411.56 316.40) skewY(0.05)" font-size="9.86" textLength="69.39" lengthAdjust="spacingAndGlyphs" fill="#000" font-weight="bold">(d) M vs. S</text>
<text transform="translate(411.94 327.10) skewY(0.05)" font-size="7.00" textLength="160.69" lengthAdjust="spacingAndGlyphs" fill="#111" font-style="italic">Scaling = 0, Centering = 2, SVP = 2</text>
<text transform="translate(498.63 558.20) skewY(0.05)" font-size="10.00" textLength="96.16" lengthAdjust="spacingAndGlyphs" fill="#111">PC1 (38.84%)</text>
<text transform="translate(367.30,465.15) scale(1.287,1) rotate(-90) skewY(0.05)" x="0" y="0" font-size="11.27" textLength="70.79" lengthAdjust="spacingAndGlyphs" fill="#111">PC2 (30.59%)</text>
</svg>
</body></html>
